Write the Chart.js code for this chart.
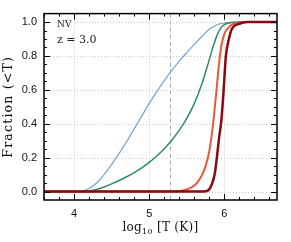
<!DOCTYPE html>
<html>
<head>
<meta charset="utf-8">
<script src="https://cdn.jsdelivr.net/npm/chart.js@4.4.1/dist/chart.umd.min.js"></script>
<style>
  html, body { margin: 0; padding: 0; background: #fff; }
  #wrap { width: 291px; height: 242px; }
</style>
</head>
<body>
<div id="wrap"><canvas id="chart"></canvas></div>
<script>
// values (log10 T, cumulative fraction)
const blueX  = [3.6, 4.05, 4.1, 4.2, 4.3, 4.4, 4.5, 4.6, 4.7, 4.8, 4.9, 5.0, 5.1, 5.2, 5.3, 5.4, 5.5, 5.6, 5.7, 5.8, 5.9, 6.0, 6.1, 6.2, 6.7];
const blueY  = [0, 0, 0.002, 0.018, 0.05, 0.1, 0.16, 0.225, 0.295, 0.37, 0.445, 0.52, 0.59, 0.655, 0.715, 0.77, 0.82, 0.868, 0.915, 0.958, 0.984, 0.995, 0.999, 1, 1];
const greenX = [3.6, 4.12, 4.2, 4.3, 4.4, 4.5, 4.6, 4.7, 4.8, 4.9, 5.0, 5.1, 5.2, 5.3, 5.4, 5.5, 5.6, 5.7, 5.75, 5.8, 5.85, 5.9, 5.95, 6.0, 6.1, 6.2, 6.7];
const greenY = [0, 0, 0.003, 0.012, 0.027, 0.045, 0.065, 0.087, 0.112, 0.14, 0.172, 0.21, 0.253, 0.303, 0.362, 0.432, 0.52, 0.635, 0.705, 0.78, 0.855, 0.92, 0.963, 0.985, 0.997, 1, 1];
const orangeX = [3.6, 5.3, 5.4, 5.5, 5.6, 5.65, 5.7, 5.75, 5.8, 5.85, 5.88, 5.9, 5.93, 5.96, 6.0, 6.05, 6.1, 6.2, 6.3, 6.7];
const orangeY = [0, 0, 0.003, 0.012, 0.035, 0.06, 0.095, 0.15, 0.24, 0.4, 0.53, 0.62, 0.76, 0.86, 0.93, 0.965, 0.985, 0.997, 1, 1];
const redX = [3.6, 5.72, 5.78, 5.83, 5.87, 5.9, 5.93, 5.96, 5.99, 6.02, 6.06, 6.1, 6.2, 6.3, 6.7];
const redY = [0, 0, 0.005, 0.04, 0.1, 0.2, 0.32, 0.42, 0.6, 0.8, 0.9, 0.96, 0.99, 1, 1];

const xMajor = [4, 5, 6];
const yMajor = [0.0, 0.2, 0.4, 0.6, 0.8, 1.0];
const ionTemp = 5.27;   // dashed vertical line

const pts = (xs, ys) => xs.map((x, i) => ({ x, y: ys[i] }));

function line(label, xs, ys, color, width) {
  return {
    label,
    data: pts(xs, ys),
    borderColor: color,
    borderWidth: width,
    pointRadius: 0,
    cubicInterpolationMode: "monotone",
    fill: false,
  };
}

const axisDecor = {
  id: "axisDecor",
  beforeDatasetsDraw(chart) {
    const { ctx, chartArea: a, scales: { x, y } } = chart;
    ctx.save();
    // dotted grid
    ctx.strokeStyle = "#c8c8c8";
    ctx.lineWidth = 1;
    ctx.setLineDash([1, 2]);
    ctx.beginPath();
    for (const v of xMajor) {
      const px = Math.round(x.getPixelForValue(v)) + 0.5;
      ctx.moveTo(px, a.top); ctx.lineTo(px, a.bottom);
    }
    for (const v of yMajor) {
      const py = Math.round(y.getPixelForValue(v)) + 0.5;
      ctx.moveTo(a.left, py); ctx.lineTo(a.right, py);
    }
    ctx.stroke();
    // dashed ionisation line
    ctx.strokeStyle = "#aaaaaa";
    ctx.setLineDash([4, 3]);
    const px = Math.round(x.getPixelForValue(ionTemp)) + 0.5;
    ctx.beginPath();
    ctx.moveTo(px, a.top);
    ctx.lineTo(px, a.bottom);
    ctx.stroke();
    ctx.restore();
  },
  afterDraw(chart) {
    const { ctx, chartArea: a, scales: { x, y } } = chart;
    ctx.save();
    ctx.strokeStyle = "#000";
    ctx.lineWidth = 1;
    // minor + major ticks, inward, on all four sides
    for (let v = 3.6; v <= 6.71; v += 0.2) {
      const vv = Math.round(v * 10) / 10;
      const len = xMajor.includes(vv) ? 6 : 3;
      const px = Math.round(x.getPixelForValue(vv)) + 0.5;
      ctx.beginPath();
      ctx.moveTo(px, a.bottom); ctx.lineTo(px, a.bottom - len);
      ctx.moveTo(px, a.top); ctx.lineTo(px, a.top + len);
      ctx.stroke();
    }
    for (let k = 0; k <= 20; k++) {
      const v = k * 0.05;
      const len = k % 4 === 0 ? 6 : 3;
      const py = Math.round(y.getPixelForValue(v)) + 0.5;
      ctx.beginPath();
      ctx.moveTo(a.left, py); ctx.lineTo(a.left + len, py);
      ctx.moveTo(a.right, py); ctx.lineTo(a.right - len, py);
      ctx.stroke();
    }
    ctx.lineWidth = 1.5;
    ctx.strokeRect(a.left, a.top, a.right - a.left, a.bottom - a.top);

    // labels inside the panel
    ctx.fillStyle = "#222";
    ctx.textBaseline = "alphabetic";
    ctx.font = "9px 'DejaVu Serif'";
    ctx.fillText("NV", a.left + 13, 27);
    ctx.font = "11px 'DejaVu Serif'";
    ctx.fillText("z = 3.0", a.left + 13, 43);

    // x title with subscript
    const base = 231;
    ctx.fillStyle = "#111";
    ctx.letterSpacing = "0.3px";
    const p1 = "log", p3 = " [T (K)]";
    ctx.font = "8px 'DejaVu Serif'";
    const w2 = ctx.measureText("10").width;
    ctx.font = "12px 'DejaVu Serif'";
    const w1 = ctx.measureText(p1).width, w3 = ctx.measureText(p3).width;
    const tx = (a.left + a.right) / 2 - (w1 + w2 + w3) / 2;
    ctx.fillText(p1, tx, base);
    ctx.font = "8px 'DejaVu Serif'";
    ctx.fillText("10", tx + w1, base + 3);
    ctx.font = "12px 'DejaVu Serif'";
    ctx.fillText(p3, tx + w1 + w2, base);

    // y title, rotated, wide spacing like the original
    ctx.save();
    ctx.translate(12, (a.top + a.bottom) / 2);
    ctx.rotate(-Math.PI / 2);
    ctx.font = "12.5px 'DejaVu Serif'";
    ctx.letterSpacing = "1.2px";
    ctx.textAlign = "center";
    ctx.textBaseline = "alphabetic";
    ctx.fillText("Fraction (<T)", 0, 0);
    ctx.restore();
    ctx.restore();
  },
};

new Chart(document.getElementById("chart"), {
  type: "line",
  data: {
    datasets: [
      line("dark red", redX, redY, "#8a0a12", 2.5),
      line("orange", orangeX, orangeY, "#e5583b", 2),
      line("green", greenX, greenY, "#2e8a6e", 1.5),
      line("blue", blueX, blueY, "#76a3cc", 1.2),
    ],
  },
  options: {
    responsive: true,
    maintainAspectRatio: false,
    animation: false,
    layout: { padding: { top: 12, right: 14, left: 0, bottom: 0 } },
    plugins: { legend: { display: false }, tooltip: { enabled: false } },
    scales: {
      x: {
        type: "linear",
        min: 3.6,
        max: 6.7,
        afterBuildTicks: s => { s.ticks = xMajor.map(v => ({ value: v })); },
        afterFit: s => { s.height = 42; },
        ticks: {
          color: "#111",
          font: { family: "'Liberation Sans'", size: 11 },
          padding: 7,
          maxRotation: 0,
        },
        grid: { display: false, drawTicks: false },
        border: { display: false },
      },
      y: {
        type: "linear",
        min: -0.05,
        max: 1.05,
        afterBuildTicks: s => { s.ticks = yMajor.map(v => ({ value: v })); },
        afterFit: s => { s.width = 44; },
        ticks: {
          color: "#111",
          font: { family: "'Liberation Sans'", size: 11 },
          padding: 7,
          callback: v => v.toFixed(1),
        },
        grid: { display: false, drawTicks: false },
        border: { display: false },
      },
    },
  },
  plugins: [axisDecor],
});
</script>
</body>
</html>
